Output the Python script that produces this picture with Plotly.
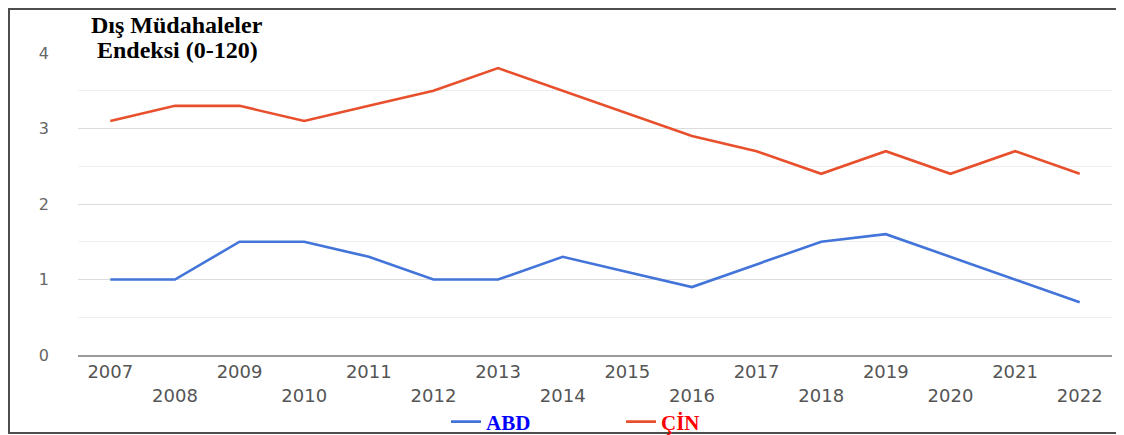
import plotly.graph_objects as go

years = [str(y) for y in range(2007, 2023)]
abd = [1.0, 1.0, 1.5, 1.5, 1.3, 1.0, 1.0, 1.3, 1.1, 0.9, 1.2, 1.5, 1.6, 1.3, 1.0, 0.7]
cin = [3.1, 3.3, 3.3, 3.1, 3.3, 3.5, 3.8, 3.5, 3.2, 2.9, 2.7, 2.4, 2.7, 2.4, 2.7, 2.4]
y_ticks = [0, 1, 2, 3, 4]
title_lines = ["Dış Müdahaleler", "Endeksi (0-120)"]

# the page body has an 8px margin: figure pixel = picture pixel - 8
OFF = 8


def fx(X):
    return X - OFF


def fy(Y):
    return Y - OFF


W = 1124 - 2 * OFF
H = 435 - OFF
L = int(round(fx(78)))
R = W - int(round(fx(1112)))
T = int(round(fy(53)))
B = H - int(round(fy(355)))
pw, ph = W - L - R, H - T - B


def px_x(X):
    return (fx(X) - L) / pw


def px_y(Y):
    return (H - B - fy(Y)) / ph


tick_text = [y if i % 2 == 0 else "<br>" + y for i, y in enumerate(years)]

fig = go.Figure()
fig.add_trace(go.Scatter(
    x=years, y=abd, mode="lines",
    name="<span style='color:#0000ff'><b>ABD</b></span>",
    line=dict(color="#4274d9", width=2.6),
))
fig.add_trace(go.Scatter(
    x=years, y=cin, mode="lines",
    name="<span style='color:#ff0000'><b>ÇİN</b></span>",
    line=dict(color="#e8502d", width=2.6),
))

fig.update_layout(
    width=W, height=H,
    margin=dict(l=L, r=R, t=T, b=B, autoexpand=False),
    paper_bgcolor="white", plot_bgcolor="white",
    showlegend=True,
    legend=dict(
        orientation="h",
        xref="container", yref="container",
        x=fx(446) / W, xanchor="left",
        y=(H - fy(422)) / H, yanchor="middle",
        font=dict(family="Liberation Serif", size=21),
        entrywidth=130, entrywidthmode="pixels",
        bgcolor="rgba(0,0,0,0)",
    ),
    xaxis=dict(
        type="category", range=[-0.5, 15.5],
        tickmode="array", tickvals=years, ticktext=tick_text,
        showgrid=False, ticks="", zeroline=False,
        showline=True, linecolor="#9a9a9a", linewidth=1.5,
        tickfont=dict(family="DejaVu Sans", size=18, color="#555555"),
        automargin=False,
    ),
    yaxis=dict(
        range=[0, 4.0], tickvals=y_ticks,
        showgrid=True, gridcolor="#dcdcdc", gridwidth=1,
        minor=dict(dtick=0.5, showgrid=True, gridcolor="#efefef", gridwidth=1),
        zeroline=False, showline=False, ticks="",
        ticklabelstandoff=28,
        tickfont=dict(family="DejaVu Sans", size=16, color="#666666"),
        automargin=False,
    ),
)

for i, line in enumerate(title_lines):
    fig.add_annotation(
        x=px_x(177), y=px_y(25 + 25 * i), xref="paper", yref="paper",
        text="<b>" + line + "</b>", showarrow=False,
        xanchor="center", yanchor="middle",
        font=dict(family="Liberation Serif", size=24, color="black"),
    )

fig.add_shape(
    type="rect", xref="paper", yref="paper",
    x0=(1 - L) / pw, x1=(W + 20 - L) / pw,
    y0=px_y(433), y1=(H - B - 1) / ph,
    line=dict(color="#4d4d4d", width=2), fillcolor="rgba(0,0,0,0)",
    layer="above",
)

fig.write_html("out.html")
